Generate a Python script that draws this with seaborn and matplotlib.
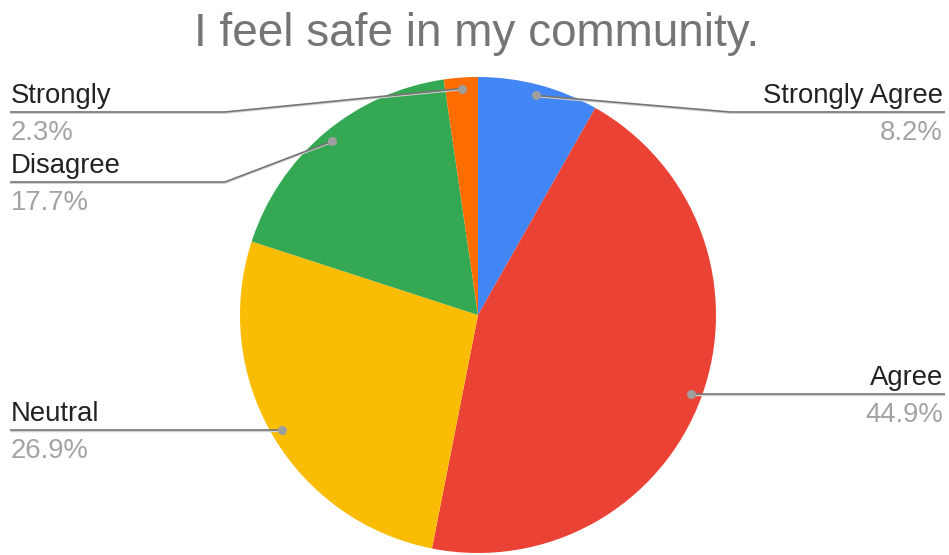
import numpy as np
import matplotlib
matplotlib.use("Agg")
import matplotlib.pyplot as plt
import seaborn as sns

# Data
categories = ["Strongly Agree", "Agree", "Neutral", "Disagree", "Strongly Disagree"]
shown_labels = ["Strongly Agree", "Agree", "Neutral", "Disagree", "Strongly"]
percents = [8.2, 44.9, 26.9, 17.7, 2.3]
colors = ["#4285F4", "#EA4335", "#FBBC04", "#34A853", "#FF6D01"]
title = "I feel safe in my community."

sns.set_theme(style="white")
plt.rcParams["font.family"] = ["Liberation Sans", "DejaVu Sans"]

W, H = 949, 555
fig = plt.figure(figsize=(W / 100, H / 100), dpi=100)
ax = fig.add_axes([0, 0, 1, 1])

# pie geometry (pixels, y up)
cx, cy, R = 478, H - 315, 238
wedges, _ = ax.pie(percents, colors=colors, startangle=90, counterclock=False,
                   center=(cx, cy), radius=R, frame=True,
                   wedgeprops=dict(linewidth=0))
ax.set_xlim(0, W)
ax.set_ylim(0, H)
ax.set_aspect("equal")
ax.axis("off")

# leader line layout: (side, line y in pixels from top)
layout = [("right", 112), ("right", None), ("left", None), ("left", 182), ("left", 112)]
knee_right, knee_left = 730, 225
x_right, x_left = 945, 10

line_col = "#757575"
dot_col = "#9e9e9e"
for w, lab, pct, (side, ly) in zip(wedges, shown_labels, percents, layout):
    mid = np.deg2rad((w.theta1 + w.theta2) / 2)
    dx = cx + 0.954 * R * np.cos(mid)
    dy = cy + 0.954 * R * np.sin(mid)
    yline = dy if ly is None else H - ly
    if side == "right":
        xs = [dx, knee_right, x_right]
        tx, ha = x_right - 2, "right"
    else:
        xs = [dx, knee_left, x_left]
        tx, ha = x_left + 1, "left"
    ys = [dy, yline, yline]
    ax.plot(xs, [y - 1.2 for y in ys], color="#d0d0d0", lw=1.0, zorder=3,
            solid_capstyle="butt")
    ax.plot(xs, ys, color=line_col, lw=1.2, zorder=4, solid_capstyle="butt")
    ax.plot(dx, dy, "o", color=dot_col, markersize=6.5, zorder=5, markeredgewidth=0)
    ax.text(tx, yline + 9, lab, ha=ha, va="baseline", fontsize=19.8, color="#222222")
    ax.text(tx, yline - 8, f"{pct}%", ha=ha, va="top", fontsize=19.8, color="#a3a3a3")

ax.text(477, H - 46, title, ha="center", va="baseline", fontsize=33, color="#757575")

fig.savefig("out.png", dpi=100)
